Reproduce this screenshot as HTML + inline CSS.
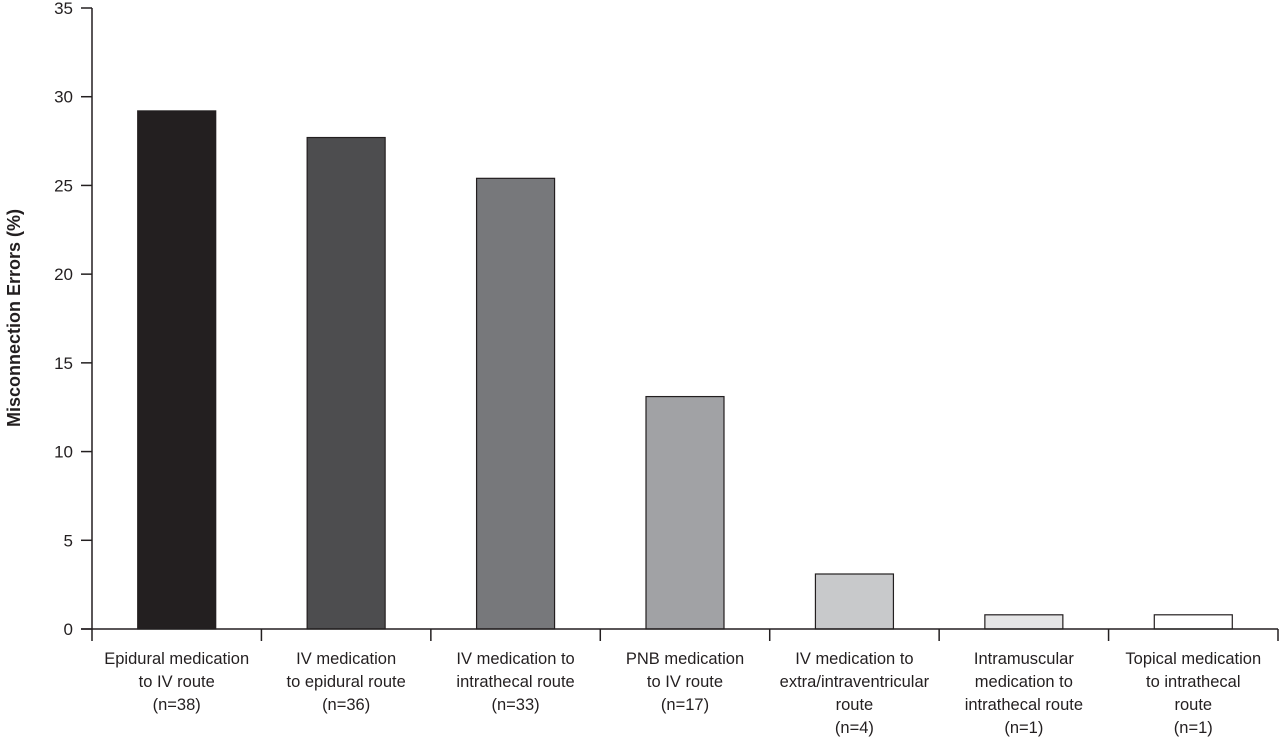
<!DOCTYPE html>
<html><head><meta charset="utf-8"><style>
html,body{margin:0;padding:0;background:#fff;}
svg{display:block;font-family:"Liberation Sans",Arial,sans-serif;}
</style></head><body>
<svg id="chart" width="1280" height="739"></svg>
<script>
const categories=[
 ["Epidural medication","to IV route","(n=38)"],
 ["IV medication","to epidural route","(n=36)"],
 ["IV medication to","intrathecal route","(n=33)"],
 ["PNB medication","to IV route","(n=17)"],
 ["IV medication to","extra/intraventricular","route","(n=4)"],
 ["Intramuscular","medication to","intrathecal route","(n=1)"],
 ["Topical medication","to intrathecal","route","(n=1)"]
];
const values=[29.2,27.7,25.4,13.1,3.1,0.8,0.8];
const barColors=["#231f20","#4d4d4f","#77787b","#a1a2a5","#c8c9cb","#e5e5e6","#ffffff"];
const yTicks=[0,5,10,15,20,25,30,35];
const svg=document.getElementById('chart');
const NS="http://www.w3.org/2000/svg";
const x0=92,x1=1278,yBase=629,yTop=8,yMax=35;
const band=(x1-x0)/categories.length;
function yScale(v){return yBase-(yBase-yTop)*v/yMax;}
function xBand(i){return x0+band*i;}
function mk(tag,attrs,parent){const e=document.createElementNS(NS,tag);for(const k in attrs)e.setAttribute(k,attrs[k]);(parent||svg).appendChild(e);return e;}
const barW=78;
values.forEach((v,i)=>{
 const cx=xBand(i)+band/2;
 const r=mk('rect',{x:cx-barW/2,y:yScale(v),width:barW,height:yBase-yScale(v),fill:barColors[i],stroke:"#231f20","stroke-width":1.2});
 
 
});
// y axis
const ya=mk('line',{x1:x0,y1:yTop,x2:x0,y2:yBase,stroke:"#231f20","stroke-width":1.5});


yTicks.forEach(t=>{
 const y=yScale(t);
 const tk=mk('line',{x1:x0-11,y1:y,x2:x0,y2:y,stroke:"#231f20","stroke-width":1.5});
 
 
 const tx=mk('text',{x:x0-19,y:y+6,"text-anchor":"end","font-size":17,fill:"#231f20"});
 tx.textContent=t;
 
 
});
// x axis
const xa=mk('line',{x1:x0-11,y1:yBase,x2:x1,y2:yBase,stroke:"#231f20","stroke-width":1.5});


for(let i=0;i<=categories.length;i++){
 const x=xBand(i);
 const tk=mk('line',{x1:x,y1:yBase,x2:x,y2:yBase+12,stroke:"#231f20","stroke-width":1.5});
 
 
}
categories.forEach((lines,i)=>{
 const cx=xBand(i)+band/2;
 const t=mk('text',{x:cx,y:664,"text-anchor":"middle","font-size":16.5,fill:"#231f20"});
 
 
 lines.forEach((l,j)=>{const s=mk('tspan',{x:cx,dy:j?23:0},t);s.textContent=l;});
});
const yt=mk('text',{x:0,y:0,transform:"translate(20,318) rotate(-90)","text-anchor":"middle","font-size":18,"font-weight":"bold",fill:"#231f20"});
yt.textContent="Misconnection Errors (%)";


</script>
</body></html>
